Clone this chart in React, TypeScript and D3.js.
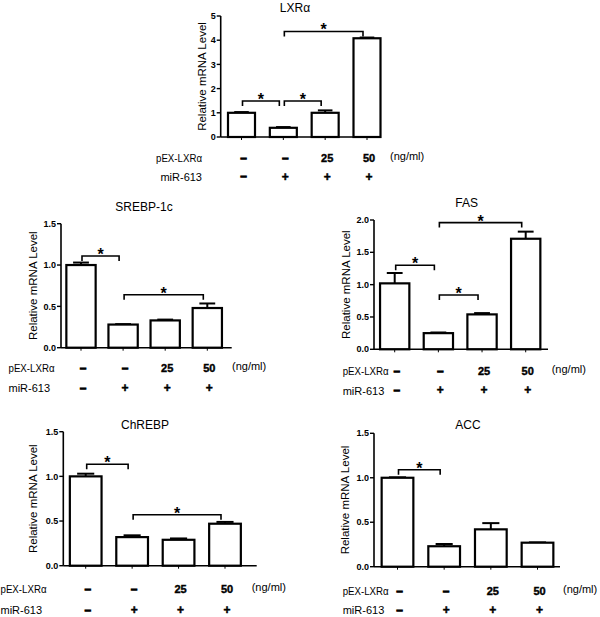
import React from 'react';
import * as d3 from 'd3';

// ---- data ----
const pexLabels = ['–', '–', '25', '50'];
const mirLabels = ['–', '+', '+', '+'];

const lxrMeans = [1.0, 0.38, 1.0, 4.08];
const lxrErrs = [0.03, 0.03, 0.1, 0.03];
const lxrTicks = [0, 1, 2, 3, 4, 5];
const lxrBrackets = [[0, 1, 1.49], [1, 2, 1.49], [1, 3, 4.36]];

const srebpMeans = [1.0, 0.28, 0.33, 0.48];
const srebpErrs = [0.03, 0.005, 0.01, 0.055];
const srebpTicks = [0, 0.5, 1.0, 1.5];
const srebpBrackets = [[0, 1, 1.11], [1, 3, 0.64]];

const fasMeans = [1.02, 0.25, 0.54, 1.71];
const fasErrs = [0.16, 0.01, 0.02, 0.11];
const fasTicks = [0, 0.5, 1.0, 1.5, 2.0];
const fasBrackets = [[0, 1, 1.3], [1, 2, 0.84], [1, 3, 1.96]];

const chrebpMeans = [1.0, 0.32, 0.29, 0.47];
const chrebpErrs = [0.03, 0.02, 0.015, 0.02];
const chrebpTicks = [0, 0.5, 1.0, 1.5];
const chrebpBrackets = [[0, 1, 1.135], [1, 3, 0.57]];

const accMeans = [1.0, 0.23, 0.42, 0.27];
const accErrs = [0.005, 0.025, 0.07, 0.003];
const accTicks = [0, 0.5, 1.0, 1.5];
const accBrackets = [[0, 1, 1.09]];

const FONT = '"Liberation Sans", Arial, Helvetica, sans-serif';

type PanelProps = {
  title: string;
  means: number[];
  errs: number[];
  ticks: number[];
  brackets: number[][];
  fmt: string;
  axisX: number; y0: number; yTop: number;
  c0: number; c3: number; barW: number; axisEnd: number;
  titleX: number; titleY: number; ylabOff: number;
  rowY1: number; rowY2: number;
  labX: number; labAnchor: 'start' | 'end';
  ngX: number;
};

function Panel(p: PanelProps) {
  const maxV = p.ticks[p.ticks.length - 1];
  const y = d3.scaleLinear().domain([0, maxV]).range([p.y0, p.yTop]);
  const x = d3.scalePoint<number>().domain(d3.range(p.means.length)).range([p.c0, p.c3]);
  const f = d3.format(p.fmt);
  const ylabX = p.axisX - p.ylabOff;
  const ylabY = (p.y0 + p.yTop) / 2;
  return (
    <g fontFamily={FONT}>
      <text x={p.titleX} y={p.titleY} textAnchor="middle" fontSize={12}>{p.title}</text>
      <text transform={`translate(${ylabX},${ylabY}) rotate(-90)`} textAnchor="middle" fontSize={11.5}>Relative mRNA Level</text>
      {/* bars */}
      {p.means.map((v, i) => (
        <g key={i}>
          <line x1={x(i)!} x2={x(i)!} y1={y(v)} y2={y(v + p.errs[i])} stroke="#000" strokeWidth={2} />
          <line x1={x(i)! - p.barW * 0.27} x2={x(i)! + p.barW * 0.27} y1={y(v + p.errs[i])} y2={y(v + p.errs[i])} stroke="#000" strokeWidth={2} />
          <rect x={x(i)! - p.barW / 2} y={y(v)} width={p.barW} height={p.y0 - y(v)} fill="#fff" stroke="#000" strokeWidth={2.2} />
        </g>
      ))}
      {/* axes */}
      <line x1={p.axisX} x2={p.axisX} y1={p.yTop} y2={p.y0} stroke="#000" strokeWidth={1.6} />
      <line x1={p.axisX} x2={p.axisEnd} y1={p.y0} y2={p.y0} stroke="#000" strokeWidth={1.6} />
      {p.ticks.map((t) => (
        <g key={t}>
          <line x1={p.axisX - 4} x2={p.axisX} y1={y(t)} y2={y(t)} stroke="#000" strokeWidth={1.4} />
          <text x={p.axisX - 5} y={y(t)} dy="0.35em" textAnchor="end" fontSize={9} fontWeight="bold">{f(t)}</text>
        </g>
      ))}
      {p.means.map((_, i) => (
        <line key={i} x1={x(i)!} x2={x(i)!} y1={p.y0} y2={p.y0 + 3} stroke="#000" strokeWidth={1} />
      ))}
      {/* significance brackets */}
      {p.brackets.map(([a, b, h], k) => {
        const yy = y(h);
        const x1 = x(a)! + 1;
        const x2 = x(b)! - 4;
        return (
          <g key={k}>
            <path d={`M${x1},${yy + 5}V${yy}H${x2}V${yy + 5}`} fill="none" stroke="#000" strokeWidth={1.6} />
            <text x={(x1 + x2) / 2} y={yy + 4} textAnchor="middle" fontSize={16} fontWeight="bold">*</text>
          </g>
        );
      })}
      {/* condition rows */}
      <text x={p.labX} y={p.rowY1} dy="0.35em" textAnchor={p.labAnchor} fontSize={11} textLength={46} lengthAdjust="spacingAndGlyphs">pEX-LXRα</text>
      <text x={p.labX} y={p.rowY2} dy="0.35em" textAnchor={p.labAnchor} fontSize={11}>miR-613</text>
      {pexLabels.map((s, i) => (
        <text key={i} x={x(i)! + 2} y={p.rowY1} dy="0.35em" textAnchor="middle" fontSize={11} fontWeight="bold" stroke="#000" strokeWidth={s === '–' ? 1.2 : 0.4}>{s}</text>
      ))}
      {mirLabels.map((s, i) => (
        <text key={i} x={x(i)! + 2} y={p.rowY2 - 0.5} dy="0.35em" textAnchor="middle" fontSize={s === '+' ? 12 : 11} fontWeight="bold" stroke="#000" strokeWidth={s === '–' ? 1.2 : 0.5}>{s}</text>
      ))}
      <text x={p.ngX} y={p.rowY1 - 2} dy="0.35em" fontSize={11}>(ng/ml)</text>
    </g>
  );
}

export default function App() {
  return (
    <svg width={600} height={617} style={{ position: 'absolute', left: 0, top: 0, background: '#fff' }}>
      <rect width={600} height={617} fill="#fff" />
      <Panel title="LXRα" means={lxrMeans} errs={lxrErrs} ticks={lxrTicks} brackets={lxrBrackets} fmt="d"
        axisX={220.7} y0={137} yTop={16} c0={241.5} c3={367} barW={27} axisEnd={380}
        titleX={295} titleY={12} ylabOff={14.5}
        rowY1={158} rowY2={177} labX={202} labAnchor="end" ngX={390} />
      <Panel title="SREBP-1c" means={srebpMeans} errs={srebpErrs} ticks={srebpTicks} brackets={srebpBrackets} fmt=".1f"
        axisX={61} y0={347.7} yTop={223.7} c0={81} c3={207.3} barW={29.3} axisEnd={231.7}
        titleX={144} titleY={210.5} ylabOff={24}
        rowY1={368.3} rowY2={388.3} labX={8.5} labAnchor="start" ngX={232} />
      <Panel title="FAS" means={fasMeans} errs={fasErrs} ticks={fasTicks} brackets={fasBrackets} fmt=".1f"
        axisX={374} y0={349.3} yTop={220} c0={394.7} c3={525.7} barW={29.3} axisEnd={548}
        titleX={466.7} titleY={207} ylabOff={24.5}
        rowY1={370.7} rowY2={390.7} labX={342.7} labAnchor="start" ngX={551.7} />
      <Panel title="ChREBP" means={chrebpMeans} errs={chrebpErrs} ticks={chrebpTicks} brackets={chrebpBrackets} fmt=".1f"
        axisX={63.3} y0={565.7} yTop={431.7} c0={85.7} c3={225} barW={31.7} axisEnd={256.7}
        titleX={145} titleY={429} ylabOff={26.5}
        rowY1={589} rowY2={610.2} labX={0.5} labAnchor="start" ngX={251.7} />
      <Panel title="ACC" means={accMeans} errs={accErrs} ticks={accTicks} brackets={accBrackets} fmt=".1f"
        axisX={374} y0={566.7} yTop={433.3} c0={397.5} c3={537.5} barW={31.7} axisEnd={560}
        titleX={468} titleY={429} ylabOff={25.5}
        rowY1={590.7} rowY2={610.5} labX={342.7} labAnchor="start" ngX={563} />
    </svg>
  );
}
